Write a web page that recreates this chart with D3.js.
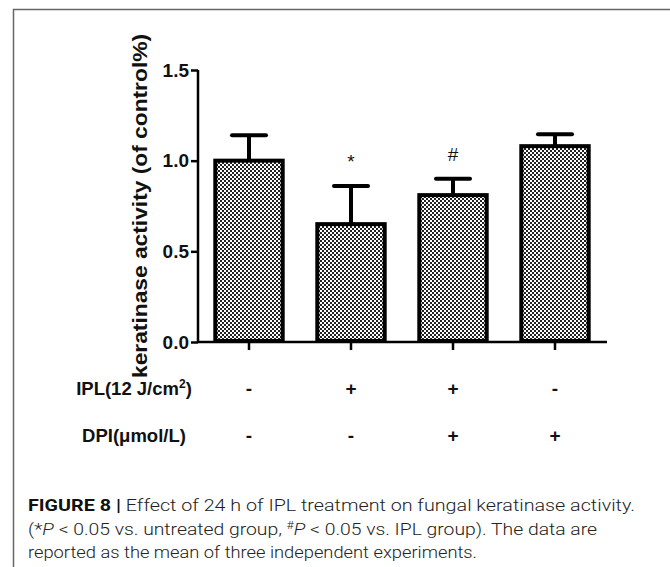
<!DOCTYPE html>
<html>
<head>
<meta charset="utf-8">
<script src="https://cdn.jsdelivr.net/npm/d3@7"></script>
<style>
  body { margin: 0; background: #fff; }
  svg { display: block; }
  .bold { font-family: "Liberation Sans", Arial, sans-serif; font-weight: bold; }
  .caption { font-family: "Roboto", "Liberation Sans", sans-serif; font-weight: 300; fill: #222; }
</style>
</head>
<body>
<div id="chart"></div>
<script>
// data
let groups = ["g1", "g2", "g3", "g4"];
let means = [1.0, 0.65, 0.81, 1.08];
let errors = [0.14, 0.21, 0.09, 0.065];
let marks = ["", "*", "#", ""];
let iplRow = ["-", "+", "+", "-"];
let dpiRow = ["-", "-", "+", "+"];
let yTicks = [0.0, 0.5, 1.0, 1.5];
let captionLines = [
  ["FIGURE 8 | ", "Effect of 24 h of IPL treatment on fungal keratinase activity."],
  ["", "(*P < 0.05 vs. untreated group, #P < 0.05 vs. IPL group). The data are"],
  ["", "reported as the mean of three independent experiments."]
];

let width = 670, height = 567;

let svg = d3.select("#chart").append("svg")
  .attr("width", width)
  .attr("height", height);

// checker pattern for bars
let defs = svg.append("defs");
let pat = defs.append("pattern")
  .attr("id", "checker")
  .attr("width", 4).attr("height", 4)
  .attr("patternUnits", "userSpaceOnUse");
pat.append("rect").attr("width", 4).attr("height", 4).attr("fill", "#fff");
pat.append("rect").attr("width", 2).attr("height", 2).attr("fill", "#222");
pat.append("rect").attr("x", 2).attr("y", 2).attr("width", 2).attr("height", 2).attr("fill", "#222");

// frame
svg.append("path")
  .attr("d", "M13.5," + height + "V9.5H" + width)
  .attr("fill", "none")
  .attr("stroke", "#666")
  .attr("stroke-width", 1.5);

let x = d3.scaleBand()
  .domain(groups)
  .range([198, 606])
  .paddingInner(0.3)
  .paddingOuter(0.15);

let y = d3.scaleLinear()
  .domain([0, 1.5])
  .range([342, 70]);

// y axis
let yAxis = svg.append("g")
  .attr("transform", "translate(198,0)")
  .call(d3.axisLeft(y).tickValues(yTicks).tickFormat(d3.format(".1f")).tickSize(7).tickPadding(2));
yAxis.select(".domain").attr("stroke-width", 2.5).attr("d", "M0," + y(1.5) + "V" + y(0));
yAxis.selectAll(".tick line").attr("stroke-width", 2.5);
yAxis.selectAll(".tick text")
  .attr("class", "bold")
  .style("font-size", "19px")
  .attr("fill", "#111");

// x axis baseline with ticks at bar centres
let xAxis = svg.append("g")
  .attr("transform", "translate(0," + y(0) + ")")
  .call(d3.axisBottom(x).tickSize(8).tickFormat(""));
xAxis.select(".domain").attr("stroke-width", 2.5).attr("d", "M198,0H607");
xAxis.selectAll(".tick line").attr("stroke-width", 2.5);

// y axis title
svg.append("text")
  .attr("class", "bold")
  .attr("transform", "translate(147,206) rotate(-90)")
  .attr("text-anchor", "middle")
  .style("font-size", "21px")
  .attr("fill", "#111")
  .attr("textLength", 344)
  .attr("lengthAdjust", "spacingAndGlyphs")
  .text("keratinase activity (of control%)");

// error bars
let err = svg.append("g").selectAll("g").data(groups).join("g");
err.append("line")
  .attr("x1", (d) => x(d) + x.bandwidth() / 2)
  .attr("x2", (d) => x(d) + x.bandwidth() / 2)
  .attr("y1", (d, i) => y(means[i]))
  .attr("y2", (d, i) => y(means[i] + errors[i]))
  .attr("stroke", "#000")
  .attr("stroke-width", 4);
err.append("line")
  .attr("x1", (d) => x(d) + x.bandwidth() / 2 - 17)
  .attr("x2", (d) => x(d) + x.bandwidth() / 2 + 17)
  .attr("y1", (d, i) => y(means[i] + errors[i]))
  .attr("y2", (d, i) => y(means[i] + errors[i]))
  .attr("stroke", "#000")
  .attr("stroke-width", 4)
  .attr("stroke-linecap", "round");

// bars
svg.append("g").selectAll("rect").data(groups).join("rect")
  .attr("x", (d) => x(d) + 2)
  .attr("y", (d, i) => y(means[i]))
  .attr("width", x.bandwidth() - 4)
  .attr("height", (d, i) => y(0) - y(means[i]) - 1)
  .attr("fill", "url(#checker)")
  .attr("stroke", "#000")
  .attr("stroke-width", 4);

// significance marks
svg.append("g").selectAll("text").data(groups).join("text")
  .attr("x", (d) => x(d) + x.bandwidth() / 2)
  .attr("y", (d, i) => y(means[i] + errors[i]) - 18)
  .attr("text-anchor", "middle")
  .style("font-family", "Liberation Sans, Arial, sans-serif")
  .style("font-size", "19px")
  .attr("fill", "#111")
  .text((d, i) => marks[i]);

// treatment rows
let rowLabelX = 134;
let ipl = svg.append("text")
  .attr("class", "bold")
  .attr("x", rowLabelX).attr("y", 395)
  .attr("text-anchor", "middle")
  .style("font-size", "18.5px")
  .attr("fill", "#111");
ipl.append("tspan").text("IPL(12 J/cm");
ipl.append("tspan").attr("dy", -7).style("font-size", "12px").text("2");
ipl.append("tspan").attr("dy", 7).text(")");

svg.append("text")
  .attr("class", "bold")
  .attr("x", rowLabelX).attr("y", 442)
  .attr("text-anchor", "middle")
  .style("font-size", "18.5px")
  .attr("fill", "#111")
  .text("DPI(\u03bcmol/L)");

svg.append("g").selectAll("text").data(groups).join("text")
  .attr("class", "bold")
  .attr("x", (d) => x(d) + x.bandwidth() / 2)
  .attr("y", 395)
  .attr("text-anchor", "middle")
  .style("font-size", "19px")
  .attr("fill", "#111")
  .text((d, i) => iplRow[i]);

svg.append("g").selectAll("text").data(groups).join("text")
  .attr("class", "bold")
  .attr("x", (d) => x(d) + x.bandwidth() / 2)
  .attr("y", 442)
  .attr("text-anchor", "middle")
  .style("font-size", "19px")
  .attr("fill", "#111")
  .text((d, i) => dpiRow[i]);

// caption
let capY = [511, 535, 558];
let capLen = [607, 569, 449];
captionLines.forEach((line, i) => {
  let t = svg.append("text")
    .attr("class", "caption")
    .attr("x", 28)
    .attr("y", capY[i])
    .style("font-size", "17px")
    .attr("textLength", capLen[i])
    .attr("lengthAdjust", "spacingAndGlyphs");
  if (i === 0) {
    t.append("tspan").style("font-weight", "bold").attr("fill", "#111").text(line[0]);
    t.append("tspan").text(line[1]);
  } else if (i === 1) {
    t.append("tspan").text("(*");
    t.append("tspan").style("font-style", "italic").text("P");
    t.append("tspan").text(" < 0.05 vs. untreated group, ");
    t.append("tspan").attr("dy", -6).style("font-size", "11px").text("#");
    t.append("tspan").attr("dy", 6).style("font-style", "italic").text("P");
    t.append("tspan").text(" < 0.05 vs. IPL group). The data are");
  } else {
    t.text(line[1]);
  }
});
</script>
</body>
</html>
